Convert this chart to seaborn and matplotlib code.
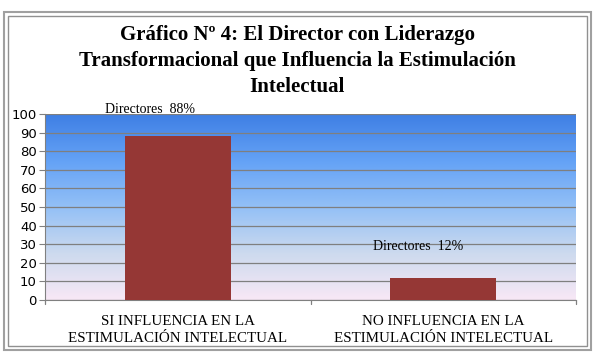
import numpy as np
import pandas as pd
import matplotlib
matplotlib.use("Agg")
import matplotlib.pyplot as plt
import seaborn as sns
from matplotlib.colors import LinearSegmentedColormap
from matplotlib.patches import Rectangle

# Data
categories = ["SI INFLUENCIA EN LA\nESTIMULACIÓN INTELECTUAL",
              "NO INFLUENCIA EN LA\nESTIMULACIÓN INTELECTUAL"]
values = [88, 12]
labels = ["Directores  88%", "Directores  12%"]
df = pd.DataFrame({"cat": categories, "val": values})

sns.set_style("white")
plt.rcParams["text.color"] = "black"
plt.rcParams["xtick.color"] = "black"
plt.rcParams["ytick.color"] = "black"

fig = plt.figure(figsize=(5.94, 3.53), dpi=100)
ax = fig.add_axes([45 / 594, 1 - 300 / 353, 531 / 594, 186 / 353])

# gradient background
grad = LinearSegmentedColormap.from_list(
    "bg", ["#f8e8f6", "#cddaee", "#93c0f6", "#64a2f6", "#3f7fe4"])
ax.imshow(np.linspace(0, 1, 256).reshape(-1, 1), cmap=grad, aspect="auto",
          extent=(-0.5, 1.5, 0, 100), origin="lower", zorder=0)

sns.barplot(data=df, x="cat", y="val", color="#953735", width=0.4,
            saturation=1, ax=ax, zorder=3, edgecolor="none", linewidth=0)

ax.set_xlim(-0.5, 1.5)
ax.set_ylim(0, 100)
ax.set_yticks(range(0, 101, 10))
ax.yaxis.grid(True, color="#7f7f7f", linewidth=0.9, zorder=1)
ax.set_axisbelow(False)
for line in ax.get_ygridlines():
    line.set_zorder(1)
ax.set_xlabel("")
ax.set_ylabel("")

for s in ["top", "right"]:
    ax.spines[s].set_visible(False)
ax.spines["left"].set_color("#808080")
ax.spines["bottom"].set_color("#808080")

ax.tick_params(axis="y", labelsize=9.5, length=4, color="#808080", left=True, pad=2)
ax.tick_params(axis="x", length=0, pad=11)
for t in ax.get_xticklabels():
    t.set_fontfamily("Liberation Serif")
    t.set_fontsize(10.8)
    t.set_linespacing(1.33)
for xb in [-0.5, 0.5, 1.5]:
    ax.plot([xb, xb], [0, -2], color="#808080", lw=0.9, clip_on=False)

# data labels
ax.text(-0.105, 99, labels[0], ha="center", va="bottom", fontsize=10,
        fontfamily="Liberation Serif")
ax.text(0.905, 29, labels[1], ha="center", va="center", fontsize=10,
        fontfamily="Liberation Serif")

fig.text(0.5, 1 - 61 / 353,
         "Gráfico Nº 4: El Director con Liderazgo\nTransformacional que Influencia la Estimulación\nIntelectual",
         ha="center", va="center", fontsize=15, fontweight="bold",
         fontfamily="Liberation Serif", linespacing=1.4)

# outer frame
fig.patches.append(Rectangle((4 / 594, 1 - 350 / 353), 587 / 594, 338 / 353,
                             transform=fig.transFigure, fill=False,
                             edgecolor="#a0a0a0", linewidth=1.5))
fig.patches.append(Rectangle((8 / 594, 1 - 346 / 353), 579 / 594, 330 / 353,
                             transform=fig.transFigure, fill=False,
                             edgecolor="#909090", linewidth=1.0))

fig.savefig("out.png", dpi=100)
